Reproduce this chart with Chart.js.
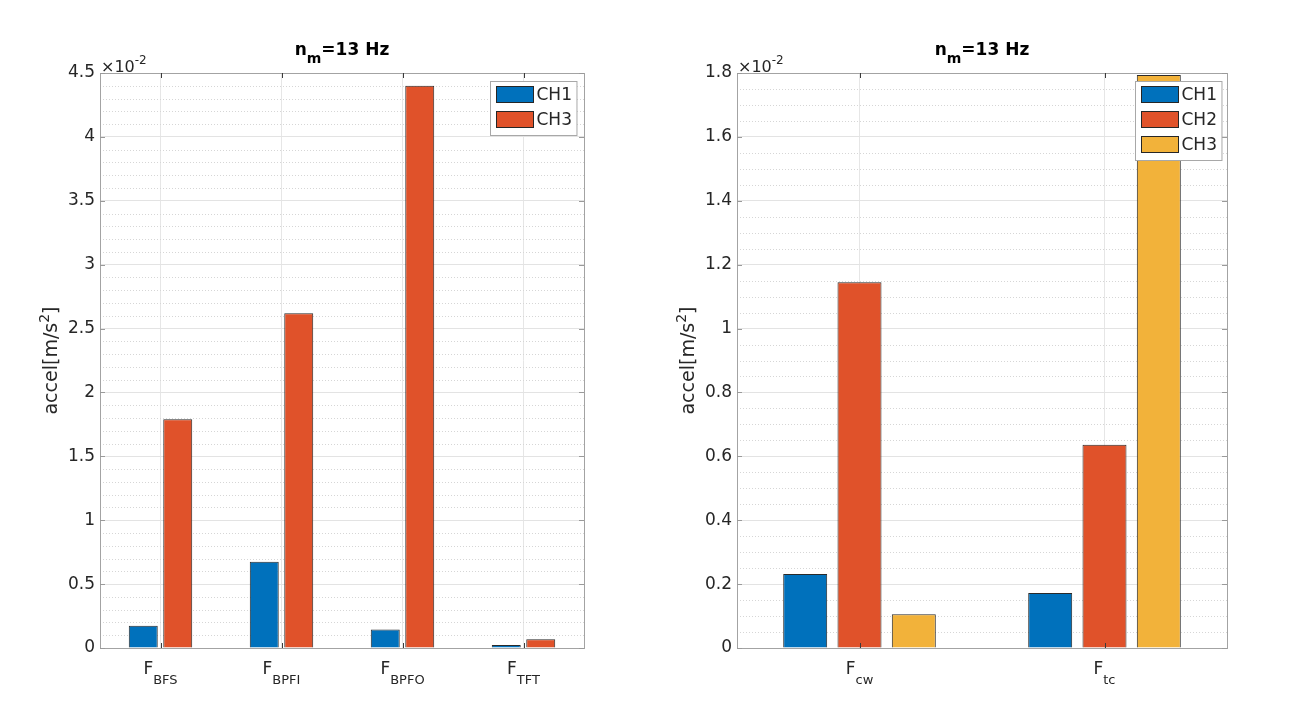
<!DOCTYPE html>
<html>
<head>
<meta charset="utf-8">
<title>accel spectra</title>
<script src="https://cdn.jsdelivr.net/npm/chart.js@4/dist/chart.umd.min.js"></script>
<style>
  html, body { margin: 0; padding: 0; background: #fff; }
  .panel { position: absolute; top: 0; height: 724px; }
  #leftPanel { left: 0; width: 657px; }
  #rightPanel { left: 657px; width: 658px; }
</style>
</head>
<body>
<div class="panel" id="leftPanel"><canvas id="leftChart"></canvas></div>
<div class="panel" id="rightPanel"><canvas id="rightChart"></canvas></div>
<script>
// values are in units of 1e-2 m/s^2 (axis shows the x10^-2 multiplier)
const leftCategories = ['F_BFS', 'F_BPFI', 'F_BPFO', 'F_TFT'];
const leftCH1 = [0.175, 0.675, 0.145, 0.023];
const leftCH3 = [1.79, 2.62, 4.40, 0.068];
const leftTicks = [0, 0.5, 1, 1.5, 2, 2.5, 3, 3.5, 4, 4.5];

const rightCategories = ['F_cw', 'F_tc'];
const rightCH1 = [0.232, 0.172];
const rightCH2 = [1.145, 0.636];
const rightCH3 = [0.106, 1.794];
const rightTicks = [0, 0.2, 0.4, 0.6, 0.8, 1, 1.2, 1.4, 1.6, 1.8];

const titleMain = 'n', titleSub = 'm', titleRest = '=13 Hz';
const yLabelMain = 'accel[m/s', yLabelSup = '2', yLabelEnd = ']';
const expMain = '\u00d710', expSup = '-2';

const FONT = '"DejaVu Sans", "Liberation Sans", Arial, sans-serif';
const BLUE = '#0071BC', RED = '#E0522A', YELLOW = '#F2B23A';

function drawRich(ctx, parts, x, y, align) {
  let w = 0;
  parts.forEach(p => { ctx.font = p.font; w += ctx.measureText(p.text).width; });
  let cx = align === 'center' ? x - w / 2 : (align === 'right' ? x - w : x);
  ctx.textAlign = 'left';
  ctx.textBaseline = 'alphabetic';
  parts.forEach(p => {
    ctx.font = p.font;
    ctx.fillText(p.text, cx, y + (p.dy || 0));
    cx += ctx.measureText(p.text).width;
  });
}

// draws the matlab-ish decorations: minor grid, box, ticks, labels, legend
function axesDecor(cfg) {
  return {
    id: 'axesDecor',
    beforeDatasetsDraw(chart) {
      const { ctx, chartArea: a, scales: { y } } = chart;
      ctx.save();
      ctx.strokeStyle = '#d6d6d6';
      ctx.lineWidth = 1;
      ctx.setLineDash([1, 2]);
      const n = Math.round(y.max / cfg.minorStep);
      for (let i = 1; i < n; i++) {
        const v = i * cfg.minorStep;
        if (cfg.ticks.some(t => Math.abs(t - v) < 1e-9)) continue;
        const py = Math.round(y.getPixelForValue(v)) + 0.5;
        ctx.beginPath(); ctx.moveTo(a.left, py); ctx.lineTo(a.right, py); ctx.stroke();
      }
      ctx.restore();
    },
    afterDraw(chart) {
      const { ctx, chartArea: a, scales: { x, y } } = chart;
      ctx.save();
      // box
      ctx.strokeStyle = '#a3a3a3';
      ctx.lineWidth = 1;
      ctx.strokeRect(Math.round(a.left) + 0.5, Math.round(a.top) + 0.5,
        Math.round(a.right - a.left), Math.round(a.bottom - a.top));
      // inner tick marks
      ctx.strokeStyle = '#3a3a3a';
      chart.data.labels.forEach((l, i) => {
        const px = Math.round(x.getPixelForTick(i)) + 0.5;
        ctx.beginPath();
        ctx.moveTo(px, a.top); ctx.lineTo(px, a.top + 5);
        ctx.moveTo(px, a.bottom); ctx.lineTo(px, a.bottom - 5);
        ctx.stroke();
      });
      ctx.strokeStyle = '#9a9a9a';
      cfg.ticks.forEach(v => {
        const py = Math.round(y.getPixelForValue(v)) + 0.5;
        ctx.beginPath();
        ctx.moveTo(a.left, py); ctx.lineTo(a.left + 5, py);
        ctx.moveTo(a.right, py); ctx.lineTo(a.right - 5, py);
        ctx.stroke();
      });
      // category labels with subscripts
      ctx.fillStyle = '#262626';
      chart.data.labels.forEach((l, i) => {
        const [main, sub] = l.split('_');
        drawRich(ctx, [
          { text: main, font: '17px ' + FONT },
          { text: sub, font: '13px ' + FONT, dy: 10 }
        ], x.getPixelForTick(i), a.bottom + 26, 'center');
      });
      // title
      ctx.fillStyle = '#000';
      drawRich(ctx, [
        { text: titleMain, font: 'bold 17px ' + FONT },
        { text: titleSub, font: 'bold 14px ' + FONT, dy: 8 },
        { text: titleRest, font: 'bold 17px ' + FONT }
      ], (a.left + a.right) / 2, 55, 'center');
      // exponent
      ctx.fillStyle = '#262626';
      drawRich(ctx, [
        { text: expMain, font: '16px ' + FONT },
        { text: expSup, font: '12px ' + FONT, dy: -8 }
      ], a.left + 1, a.top - 1, 'left');
      // y label
      ctx.save();
      ctx.translate(a.left - 43, (a.top + a.bottom) / 2);
      ctx.rotate(-Math.PI / 2);
      drawRich(ctx, [
        { text: yLabelMain, font: '19px ' + FONT },
        { text: yLabelSup, font: '14px ' + FONT, dy: -8 },
        { text: yLabelEnd, font: '19px ' + FONT }
      ], 0, 0, 'center');
      ctx.restore();
      // legend
      const ds = chart.data.datasets;
      ctx.font = '17px ' + FONT;
      const tw = Math.max(...ds.map(d => ctx.measureText(d.label).width));
      const pitch = 25, sw = 37, sh = 16;
      const bw = 6 + sw + 3 + tw + 5;
      const bh = 5 + ds.length * pitch - 1;
      const bx = Math.round(a.right - cfg.legendRight - bw) + 0.5;
      const by = Math.round(a.top + 8) + 0.5;
      ctx.fillStyle = '#fff';
      ctx.fillRect(bx, by, bw, bh);
      ctx.strokeStyle = '#a8a8a8';
      ctx.strokeRect(bx, by, bw, bh);
      ds.forEach((d, i) => {
        const sy = by + 5 + i * pitch;
        ctx.fillStyle = d.backgroundColor;
        ctx.fillRect(bx + 6, sy, sw, sh);
        ctx.strokeStyle = '#262626';
        ctx.strokeRect(bx + 6, sy, sw, sh);
        ctx.fillStyle = '#262626';
        ctx.textAlign = 'left';
        ctx.textBaseline = 'middle';
        ctx.font = '17px ' + FONT;
        ctx.fillText(d.label, bx + 6 + sw + 3, sy + sh / 2 + 1);
      });
      ctx.restore();
    }
  };
}

function makeChart(id, categories, datasets, ticks, cfg) {
  return new Chart(document.getElementById(id), {
    type: 'bar',
    data: {
      labels: categories,
      datasets: datasets.map(d => ({
        label: d.label,
        data: d.data,
        backgroundColor: d.color,
        borderColor: '#2a2a2a',
        borderWidth: 1,
        categoryPercentage: cfg.catPct,
        barPercentage: cfg.barPct
      }))
    },
    options: {
      responsive: true,
      maintainAspectRatio: false,
      animation: false,
      layout: { padding: cfg.padding },
      plugins: { legend: { display: false }, title: { display: false }, tooltip: { enabled: false } },
      scales: {
        x: {
          grid: { offset: false, color: '#e6e6e6', drawTicks: false },
          border: { display: false },
          ticks: { display: false },
          afterFit: s => { s.height = 40; }
        },
        y: {
          min: 0,
          max: ticks[ticks.length - 1],
          afterBuildTicks: s => { s.ticks = ticks.map(v => ({ value: v })); },
          grid: { color: '#e3e3e3', drawTicks: false },
          border: { display: false },
          ticks: {
            color: '#262626',
            font: { family: FONT, size: 17 },
            padding: 5,
            callback: v => String(Number(v.toFixed(3)))
          },
          afterFit: s => { s.width = 60; }
        }
      }
    },
    plugins: [axesDecor({ ticks: ticks, minorStep: cfg.minorStep, legendRight: cfg.legendRight })]
  });
}

makeChart('leftChart', leftCategories, [
  { label: 'CH1', data: leftCH1, color: BLUE },
  { label: 'CH3', data: leftCH3, color: RED }
], leftTicks, {
  padding: { left: 40, right: 73, top: 73, bottom: 36 },
  catPct: 0.57, barPct: 0.84, minorStep: 0.1, legendRight: 8
});

makeChart('rightChart', rightCategories, [
  { label: 'CH1', data: rightCH1, color: BLUE },
  { label: 'CH2', data: rightCH2, color: RED },
  { label: 'CH3', data: rightCH3, color: YELLOW }
], rightTicks, {
  padding: { left: 20, right: 88, top: 73, bottom: 36 },
  catPct: 0.665, barPct: 0.81, minorStep: 0.05, legendRight: 6
});
</script>
</body>
</html>
